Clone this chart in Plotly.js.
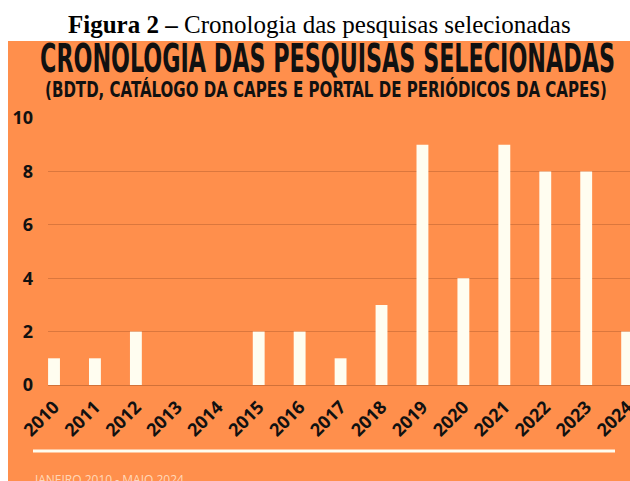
<!DOCTYPE html>
<html>
<head>
<meta charset="utf-8">
<script src="https://cdn.plot.ly/plotly-3.0.1.min.js"></script>
<style>html,body{margin:0;padding:0;background:#fff;}#chart{width:630px;height:481px;}</style>
</head>
<body>
<div id="chart"></div>
<script>
const years = [2010, 2011, 2012, 2013, 2014, 2015, 2016, 2017, 2018, 2019, 2020, 2021, 2022, 2023, 2024];
const counts = [1, 1, 2, 0, 0, 2, 2, 1, 3, 9, 4, 9, 8, 8, 2];
const yearLabels = years.map(String);
const yTicks = [0, 2, 4, 6, 8, 10];

const captionBold = 'Figura 2 –';
const captionText = 'Cronologia das pesquisas selecionadas';
const chartTitle = 'CRONOLOGIA DAS PESQUISAS SELECIONADAS';
const chartSubtitle = '(BDTD, CATÁLOGO DA CAPES E PORTAL DE PERIÓDICOS DA CAPES)';
const footerText = 'JANEIRO 2010 - MAIO 2024';

const W = 630, H = 481;
const L = 48, R = 0, T = 118, B = 96;
const pw = W - L - R, ph = H - T - B;
const px = x => (x - L) / pw;
const py = y => (H - B - y) / ph;

const ORANGE = '#FF8F4C';
const CREAM = '#FFFDF0';
const COND = 'DejaVu Sans Condensed';

const data = [{
  type: 'bar',
  x: years,
  y: counts,
  width: 0.29,
  marker: {color: CREAM, line: {width: 0}},
  hoverinfo: 'skip'
}];

const layout = {
  width: W, height: H,
  margin: {l: L, r: R, t: T, b: B, pad: 0},
  paper_bgcolor: '#ffffff',
  plot_bgcolor: 'rgba(0,0,0,0)',
  showlegend: false,
  xaxis: {
    range: [2009.853, 2024.07],
    tickvals: years,
    ticktext: yearLabels,
    tickangle: -45,
    ticklabeloverflow: 'allow',
    ticklabelstandoff: 7,
    tickfont: {family: 'Open Sans', size: 18, color: '#111', weight: 700},
    showgrid: false, zeroline: false, showline: false, ticks: '',
    fixedrange: true
  },
  yaxis: {
    range: [0, 10],
    tickvals: yTicks,
    tickfont: {family: 'Open Sans', size: 18, color: '#111', weight: 700},
    showgrid: true, gridcolor: 'rgba(190,100,50,0.55)', gridwidth: 1,
    zeroline: true, zerolinecolor: 'rgba(190,100,50,0.7)', zerolinewidth: 1,
    showline: false, ticks: '', ticklabelstandoff: 14,
    fixedrange: true
  },
  shapes: [
    {type: 'rect', xref: 'paper', yref: 'paper', x0: px(8), x1: px(632), y0: py(483), y1: py(41),
     fillcolor: ORANGE, line: {width: 0}, layer: 'below'},
    {type: 'line', xref: 'paper', yref: 'paper', x0: px(33), x1: px(615), y0: py(451), y1: py(451),
     line: {color: CREAM, width: 3}}
  ],
  annotations: [
    {xref: 'paper', yref: 'paper', x: px(319.5), y: py(24), xanchor: 'center', yanchor: 'middle',
     text: '<b>' + captionBold + '</b> ' + captionText, showarrow: false,
     font: {family: 'Liberation Serif', size: 25, color: '#000'}},
    {xref: 'paper', yref: 'paper', x: px(327), y: py(59), xanchor: 'center', yanchor: 'middle',
     text: chartTitle, showarrow: false,
     font: {family: COND, size: 24, color: '#111', weight: 700}},
    {xref: 'paper', yref: 'paper', x: px(326), y: py(88), xanchor: 'center', yanchor: 'middle',
     text: chartSubtitle, showarrow: false,
     font: {family: COND, size: 14, color: '#111', weight: 700}},
    {xref: 'paper', yref: 'paper', x: px(32), y: py(479), xanchor: 'left', yanchor: 'middle',
     text: footerText, showarrow: false,
     font: {family: 'Open Sans', size: 12, color: 'rgba(255,225,200,0.9)'}}
  ]
};

// Target boxes (left, right, cap-top, baseline) for the condensed display titles
const fitTargets = [
  {idx: 1, left: 40, right: 615, capTop: 45, base: 73},
  {idx: 2, left: 45, right: 607, capTop: 80, base: 96}
];

Plotly.newPlot('chart', data, layout, {displayModeBar: false, staticPlot: true}).then(gd => {
  const anns = gd.querySelectorAll('.annotation');
  fitTargets.forEach(t => {
    const g = anns[t.idx];
    if (!g) return;
    const txt = g.querySelector('text');
    if (!txt) return;
    const bb = txt.getBBox();
    const rect = txt.getBoundingClientRect();
    const offX = rect.left - bb.x, offY = rect.top - bb.y;
    // DejaVu metrics: ascent .928em, descent .236em, cap height .729em
    const em = bb.height / 1.164;
    const baseLocal = bb.y + 0.928 * em;
    const capH = 0.729 * em;
    const cx = bb.x + bb.width / 2, cy = baseLocal - capH / 2;
    const sx = (t.right - t.left) / bb.width;
    const sy = (t.base - t.capTop) / capH;
    const tx = (t.left + t.right) / 2 - offX;
    const ty = (t.capTop + t.base) / 2 - offY;
    txt.setAttribute('transform',
      `translate(${tx},${ty}) scale(${sx},${sy}) translate(${-cx},${-cy})`);
  });
});
</script>
</body>
</html>
